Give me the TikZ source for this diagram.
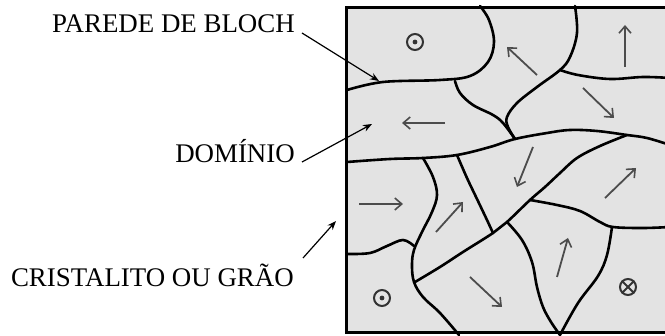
\documentclass[tikz,border=0pt]{standalone}
\usepackage{fontspec}
\setmainfont{Liberation Serif}
\usetikzlibrary{arrows.meta}
\begin{document}
\begin{tikzpicture}[x=1pt,y=-1pt,
  wall/.style={line width=2.6pt, line join=round, line cap=round},
  lbl/.style={font=\fontsize{26.9}{30}\selectfont, inner sep=0pt, anchor=base east},
  leader/.style={line width=1.2pt, -{Stealth[length=9pt,width=7pt]}},
  moment/.style={draw=black!70, line width=1.8pt, -{Straight Barb[length=7pt,width=12pt,line width=1.6pt]}},
  ring/.style={draw=black!80, line width=2pt, circle, minimum size=16pt, inner sep=0pt}]

\useasboundingbox (0,0) rectangle (665,336);

% crystallite with its domains
\begin{scope}
  \clip (0,0) rectangle (665,336);
  \fill[black!11] (346,8) rectangle (670,333);

  % Bloch walls
  \draw[wall] plot[smooth, tension=0.6] coordinates {(347,90) (383,82) (440,80) (470,76) (488,62) (494,42) (489,20) (480,6)};
  \draw[wall] plot[smooth, tension=0.6] coordinates {(575,6) (577,33) (570,57) (560,70) (537,87) (517,103) (507,117) (508,127) (515,139)};
  \draw[wall] plot[smooth, tension=0.6] coordinates {(455,81) (460,93) (473,105) (493,115) (503,123) (515,139)};
  \draw[wall] plot[smooth, tension=0.6] coordinates {(560,70) (578,75) (610,79) (643,77) (670,78)};
  \draw[wall] plot[smooth, tension=0.6] coordinates {(347,162) (390,159) (423,158) (457,155) (490,147) (515,139) (547,133) (570,130) (597,131) (627,135) (647,138) (670,145)};
  \draw[wall] plot[smooth, tension=0.6] coordinates {(627,135) (600,146) (577,158) (560,173) (545,187) (530,200) (507,222) (493,233) (463,252) (440,267) (415,282)};
  \draw[wall] plot[smooth, tension=0.6] coordinates {(423,158) (433,177) (437,195) (432,212) (422,232) (414,250) (412,265) (414,282) (423,297) (440,313) (459,335)};
  \draw[wall] plot[smooth, tension=0.6] coordinates {(347,254) (370,253) (387,246) (403,240) (414,246)};
  \draw[wall] plot[smooth, tension=0.6] coordinates {(457,155) (467,178) (477,199) (487,220) (493,233)};
  \draw[wall] plot[smooth, tension=0.6] coordinates {(507,222) (522,240) (532,262) (537,287) (543,307) (551,322) (560,335)};
  \draw[wall] plot[smooth, tension=0.6] coordinates {(560,335) (578,303) (598,276) (607,255) (612,227)};
  \draw[wall] plot[smooth, tension=0.6] coordinates {(530,200) (557,205) (580,211) (600,222) (613,227) (643,228) (670,227)};

  % crystallite outline
  \draw[line width=3pt] (672,8) -- (346,8) -- (346,333) -- (672,333);
\end{scope}

% magnetisation of each domain
\draw[moment] (537,75) -- (507,47);
\draw[moment] (625,67) -- (625,25);
\draw[moment] (583,88) -- (614,118);
\draw[moment] (445,123) -- (402,123);
\draw[moment] (359,204) -- (403,204);
\draw[moment] (436,232) -- (463,202);
\draw[moment] (533,147) -- (517,187);
\draw[moment] (605,198) -- (636,168);
\draw[moment] (470,277) -- (502,307);
\draw[moment] (557,277) -- (568,238);

% moments normal to the plane
\node[ring] (up1) at (415,42) {};
\fill[black!80] (up1.center) circle (2.4pt);
\node[ring] (up2) at (382,298) {};
\fill[black!80] (up2.center) circle (2.4pt);
\node[ring] (down1) at (628,287) {};
\draw[black!80, line width=1.8pt] (down1.north west) -- (down1.south east) (down1.north east) -- (down1.south west);

% labels
\node[lbl] (bloch) at (295,33) {PAREDE DE BLOCH};
\node[lbl] (dominio) at (295,163) {DOMÍNIO};
\node[lbl] (grao) at (294,287) {CRISTALITO OU GRÃO};

\coordinate (blochTail) at (302,33);
\coordinate (blochTip) at (379,81);
\coordinate (domTail) at (302,162);
\coordinate (domTip) at (372,124);
\coordinate (graoTail) at (303,258);
\coordinate (graoTip) at (336,221);

\draw[leader] (blochTail) -- (blochTip);
\draw[leader] (domTail) -- (domTip);
\draw[leader] (graoTail) -- (graoTip);
\end{tikzpicture}
\end{document}
